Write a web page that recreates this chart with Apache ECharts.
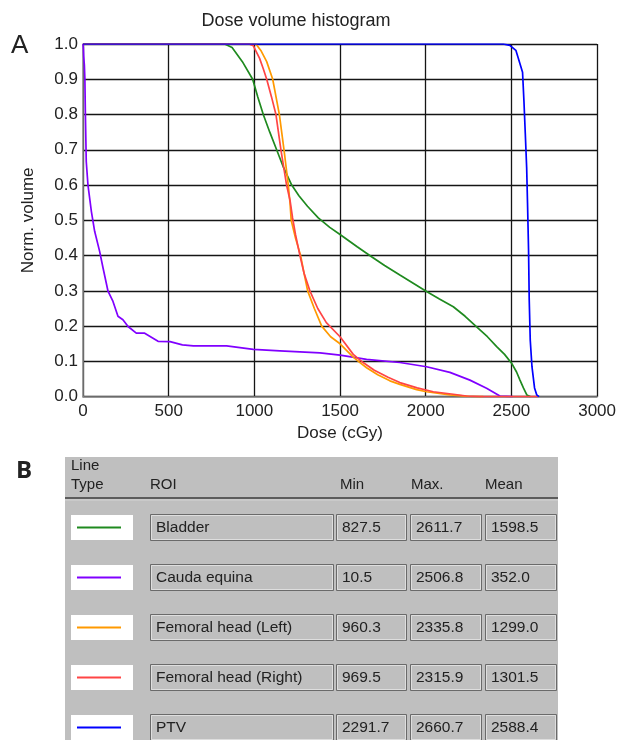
<!DOCTYPE html>
<html><head><meta charset="utf-8">
<script src="https://cdn.jsdelivr.net/npm/echarts@6/dist/echarts.min.js"></script>
<style>html,body{margin:0;padding:0;background:#fff}#c{width:619px;height:740px}</style>
</head><body><div id="c"></div>
<script>
// ---- DVH curves: [dose (cGy), normalized volume] ----
const bladder = [[0,1],[827,1],[870,0.99],[930,0.95],[990,0.9],[1020,0.85],[1052,0.8],[1090,0.75],[1130,0.7],[1170,0.65],[1218,0.6],[1260,0.57],[1310,0.54],[1373,0.507],[1440,0.48],[1500,0.46],[1600,0.425],[1684,0.397],[1760,0.372],[1849,0.345],[2005,0.298],[2080,0.277],[2161,0.255],[2230,0.228],[2297,0.198],[2360,0.17],[2414,0.142],[2460,0.12],[2501,0.095],[2530,0.07],[2550,0.047],[2570,0.025],[2590,0.005],[2612,0]];
const caudaEquina = [[0,1],[2,0.99],[4,0.965],[8,0.94],[11,0.9],[14,0.8],[19,0.667],[29,0.6],[49,0.525],[68,0.469],[97,0.412],[117,0.365],[146,0.299],[175,0.27],[204,0.228],[233,0.218],[263,0.199],[311,0.18],[360,0.18],[438,0.157],[508,0.156],[580,0.147],[644,0.144],[838,0.144],[994,0.134],[1149,0.13],[1266,0.127],[1383,0.124],[1500,0.118],[1655,0.106],[1849,0.097],[2005,0.085],[2141,0.069],[2258,0.047],[2355,0.024],[2433,0.002],[2507,0]];
const femoralLeft = [[0,1],[960,1],[1009,1],[1040,0.98],[1072,0.95],[1107,0.9],[1146,0.8],[1173,0.7],[1198,0.6],[1208,0.55],[1215,0.5],[1240,0.45],[1270,0.4],[1290,0.35],[1311,0.3],[1350,0.25],[1393,0.2],[1445,0.17],[1500,0.15],[1577,0.112],[1620,0.095],[1655,0.082],[1720,0.062],[1791,0.045],[1849,0.035],[1947,0.02],[2005,0.014],[2141,0.005],[2250,0.001],[2336,0]];
const femoralRight = [[0,1],[969,1],[994,0.995],[1030,0.96],[1052,0.93],[1072,0.9],[1100,0.85],[1126,0.8],[1155,0.7],[1188,0.6],[1208,0.557],[1223,0.507],[1240,0.46],[1266,0.4],[1290,0.35],[1324,0.3],[1370,0.25],[1420,0.21],[1500,0.17],[1577,0.12],[1626,0.1],[1700,0.075],[1780,0.055],[1849,0.04],[1950,0.025],[2044,0.014],[2161,0.007],[2238,0.002],[2316,0],[2655,0]];
const ptv = [[0,1],[2452,1],[2491,0.996],[2526,0.982],[2550,0.944],[2565,0.92],[2573,0.84],[2581,0.746],[2589,0.65],[2594,0.55],[2600,0.416],[2604,0.274],[2610,0.16],[2620,0.085],[2635,0.025],[2648,0.005],[2661,0]];

// ---- table ----
const roiNames = ['Bladder','Cauda equina','Femoral head (Left)','Femoral head (Right)','PTV'];
const roiColors = ['#1f8a1f','#8000ff','#ff9900','#ff4545','#0000ff'];
const minDose = ['827.5','10.5','960.3','969.5','2291.7'];
const maxDose = ['2611.7','2506.8','2335.8','2315.9','2660.7'];
const meanDose = ['1598.5','352.0','1299.0','1301.5','2588.4'];
const headerLabels = ['Min','Max.','Mean'];

// ---- axes ----
const xTicks = {min:0, max:3000, interval:500};
const yTicks = {min:0, max:1, interval:0.1};

const FONT = '"Liberation Sans", Arial, sans-serif';
const TXT = '#222';
const curves = [bladder, caudaEquina, femoralLeft, femoralRight, ptv];

const graphics = [];
graphics.push({type:'text', left:11, top:33, style:{text:'A', font:'26px '+FONT, fill:TXT}});
graphics.push({type:'text', left:16, top:459, style:{text:'B', font:'bold 24px "Open Sans", sans-serif', fill:TXT}});
// table background
graphics.push({type:'rect', shape:{x:65,y:457,width:493,height:283}, style:{fill:'#bfbfbf'}, z:0});
graphics.push({type:'line', shape:{x1:65,y1:498,x2:558,y2:498}, style:{stroke:'#5c5c5c', lineWidth:2}});
graphics.push({type:'line', shape:{x1:65,y1:500,x2:558,y2:500}, style:{stroke:'#d4d4d4', lineWidth:1}});
const hdrFont = '15px '+FONT;
graphics.push({type:'text', x:71, y:466, style:{text:'Line', font:hdrFont, fill:TXT, verticalAlign:'middle'}});
graphics.push({type:'text', x:71, y:485, style:{text:'Type', font:hdrFont, fill:TXT, verticalAlign:'middle'}});
graphics.push({type:'text', x:150, y:485, style:{text:'ROI', font:hdrFont, fill:TXT, verticalAlign:'middle'}});
const hdrX = [340, 411, 485];
headerLabels.forEach((h,i)=>graphics.push({type:'text', x:hdrX[i], y:485, style:{text:h, font:hdrFont, fill:TXT, verticalAlign:'middle'}}));

const cellFont = '15.5px '+FONT;
const cols = [{x:150,w:184},{x:336,w:71},{x:410,w:72},{x:485,w:72}];
function box(x,y,w,h){
  graphics.push({type:'rect', shape:{x:x+0.5,y:y+0.5,width:w-1,height:h-1}, style:{fill:'#bfbfbf', stroke:'#6a6a6a', lineWidth:1}});
  graphics.push({type:'rect', shape:{x:x+1.5,y:y+1.5,width:w-3,height:h-3}, style:{fill:'#bfbfbf', stroke:'#dedede', lineWidth:1}});
}
roiNames.forEach((name,i)=>{
  const top = 514 + 50*i, h = 27, cy = top + h/2;
  graphics.push({type:'rect', shape:{x:71,y:top+1,width:62,height:25}, style:{fill:'#ffffff'}});
  graphics.push({type:'line', shape:{x1:77,y1:cy,x2:121,y2:cy}, style:{stroke:roiColors[i], lineWidth:2}});
  const vals = [name, minDose[i], maxDose[i], meanDose[i]];
  cols.forEach((c,j)=>{
    box(c.x, top, c.w, h);
    graphics.push({type:'text', x:c.x+6, y:cy, style:{text:vals[j], font:cellFont, fill:TXT, verticalAlign:'middle'}});
  });
});

const chart = echarts.init(document.getElementById('c'), null, {renderer:'canvas'});
chart.setOption({
  animation:false,
  backgroundColor:'#ffffff',
  title:{text:'Dose volume histogram', left:296, textAlign:'center', top:12, padding:0,
    textStyle:{fontFamily:FONT, fontSize:18, fontWeight:'normal', color:TXT}},
  grid:{left:83, right:21, top:44, bottom:343.3, containLabel:false},
  xAxis:{type:'value', min:xTicks.min, max:xTicks.max, interval:xTicks.interval,
    name:'Dose (cGy)', nameLocation:'middle', nameGap:28,
    nameTextStyle:{fontFamily:FONT, fontSize:17, color:TXT},
    axisLine:{show:true, lineStyle:{color:'#888', width:1.5}},
    axisTick:{show:false},
    axisLabel:{fontFamily:FONT, fontSize:17, color:TXT, margin:6, formatter:v=>String(v)},
    splitLine:{show:true, lineStyle:{color:'#151515', width:1.3}}},
  yAxis:{type:'value', min:yTicks.min, max:yTicks.max, interval:yTicks.interval,
    name:'Norm. volume', nameLocation:'middle', nameGap:46, nameRotate:90,
    nameTextStyle:{fontFamily:FONT, fontSize:17, color:TXT},
    axisLine:{show:true, lineStyle:{color:'#888', width:1.5}},
    axisTick:{show:false},
    axisLabel:{fontFamily:FONT, fontSize:17, color:TXT, margin:5, formatter:v=>v.toFixed(1)},
    splitLine:{show:true, lineStyle:{color:'#151515', width:1.3}}},
  series: curves.map((d,i)=>({
    type:'line', name:roiNames[i], data:d, showSymbol:false, symbol:'none',
    lineStyle:{color:roiColors[i], width:1.7}, z:2+i, silent:true
  })),
  graphic: graphics
});
</script></body></html>
